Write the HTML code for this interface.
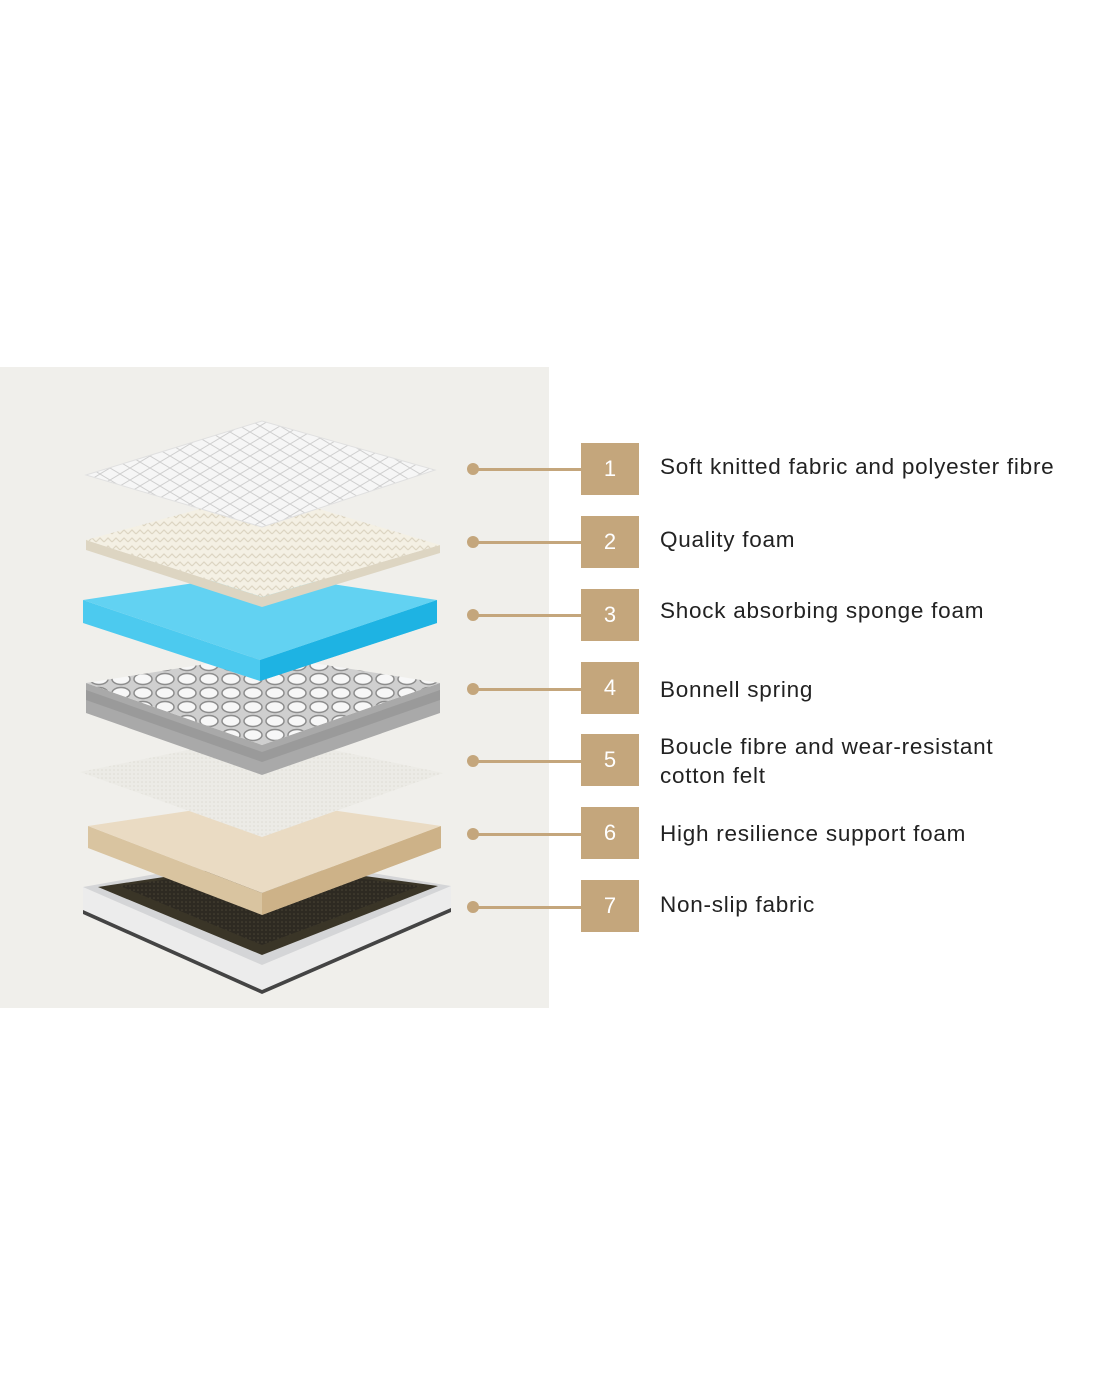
<!DOCTYPE html>
<html><head><meta charset="utf-8"><style>
body{margin:0;width:1100px;height:1375px;background:#fff;position:relative;overflow:hidden;font-family:"Liberation Sans",sans-serif}
.panel{position:absolute;left:0;top:367px;width:549px;height:641px;background:#f0efeb}
.dot{position:absolute;left:467px;width:12px;height:12px;border-radius:50%;background:#c4a67c}
.ln{position:absolute;left:473px;width:108px;height:3px;background:#c4a67c}
.box{position:absolute;left:581px;width:58px;height:52px;background:#c4a67c;color:#fff;font-size:22px;text-align:center;line-height:52px}
.t{position:absolute;left:660px;font-size:22.5px;color:#222;line-height:29px;letter-spacing:0.75px;white-space:nowrap}
</style></head><body>
<div class="panel"></div>
<svg width="549" height="1008" style="position:absolute;left:0;top:0">
<defs>
<pattern id="q" width="20" height="12" patternUnits="userSpaceOnUse"><rect width="20" height="12" fill="#f6f6f6"/><path d="M0 6 L10 0 L20 6 L10 12Z" fill="none" stroke="#cfcfcf" stroke-width="1"/></pattern>
<pattern id="f" width="8" height="8" patternUnits="userSpaceOnUse"><rect width="8" height="8" fill="#f4f0e4"/><path d="M0 6 L4 2 L8 6" fill="none" stroke="#ddd5c2" stroke-width="1.2"/></pattern>
<pattern id="s" width="22" height="14" patternUnits="userSpaceOnUse"><rect width="22" height="14" fill="#cfcfcf"/><ellipse cx="11" cy="7" rx="9" ry="5.5" fill="#f7f7f7" stroke="#8d8d8d" stroke-width="1.5"/></pattern>
<pattern id="c" width="4" height="4" patternUnits="userSpaceOnUse"><rect width="4" height="4" fill="#ecebe6"/><circle cx="2" cy="2" r="0.8" fill="#dedcd4"/></pattern>
<pattern id="m" width="4" height="4" patternUnits="userSpaceOnUse"><rect width="4" height="4" fill="#2e2a22"/><circle cx="2" cy="2" r="0.8" fill="#4b4535"/></pattern>
</defs>
<!-- 7 base -->
<polygon points="83,887 83,910 262,990 451,908 451,886 262,965" fill="#ececec"/>
<polygon points="83,910 262,990 451,908 451,912 262,994 83,914" fill="#444"/>
<polygon points="83,887 262,855 451,886 262,965" fill="#d4d5d7"/>
<polygon points="98,887 262,862 438,886 262,955" fill="#3a3527"/>
<polygon points="120,886 262,866 420,886 262,945" fill="url(#m)"/>
<!-- 6 beige -->
<polygon points="88,826 88,848 262,915 441,848 441,826 262,893" fill="#d9c4a0"/>
<polygon points="262,893 441,826 441,848 262,915" fill="#cdb288"/>
<polygon points="88,826 262,800 441,826 262,893" fill="#eadbc3"/>
<!-- 5 felt -->
<polygon points="80,772 262,735 443,773 262,837" fill="url(#c)"/>
<!-- 4 springs -->
<polygon points="86,683 86,713 262,775 440,713 440,683 262,745" fill="#a9a9a9"/>
<polygon points="86,690 262,752 440,690 440,700 262,762 86,700" fill="#8c8c8c" opacity=".5"/>
<polygon points="86,683 262,655 440,683 262,745" fill="url(#s)"/>
<!-- 3 blue -->
<polygon points="83,600 83,623 260,681 437,623 437,600 260,660" fill="#4ccaef"/>
<polygon points="260,660 437,600 437,623 260,681" fill="#1eb3e3"/>
<polygon points="83,600 260,573 437,600 260,660" fill="#62d2f2"/>
<!-- 2 foam -->
<polygon points="86,540 86,550 262,607 440,553 440,545 262,597" fill="#ddd5c2"/>
<polygon points="86,540 262,492 440,545 262,597" fill="url(#f)"/>
<!-- 1 fabric -->
<polygon points="86,475 262,421 435,470 262,527" fill="url(#q)" stroke="#e0e0e0"/>
</svg>

<div class="dot" style="top:463px"></div><div class="ln" style="top:468px"></div><div class="box" style="top:443px">1</div><div class="t" style="top:452px">Soft knitted fabric and polyester fibre</div>
<div class="dot" style="top:536px"></div><div class="ln" style="top:541px"></div><div class="box" style="top:516px">2</div><div class="t" style="top:525px">Quality foam</div>
<div class="dot" style="top:609px"></div><div class="ln" style="top:614px"></div><div class="box" style="top:589px">3</div><div class="t" style="top:596px">Shock absorbing sponge foam</div>
<div class="dot" style="top:683px"></div><div class="ln" style="top:688px"></div><div class="box" style="top:662px">4</div><div class="t" style="top:675px">Bonnell spring</div>
<div class="dot" style="top:755px"></div><div class="ln" style="top:760px"></div><div class="box" style="top:734px">5</div><div class="t" style="top:732px">Boucle fibre and wear-resistant<br>cotton felt</div>
<div class="dot" style="top:828px"></div><div class="ln" style="top:833px"></div><div class="box" style="top:807px">6</div><div class="t" style="top:819px">High resilience support foam</div>
<div class="dot" style="top:901px"></div><div class="ln" style="top:906px"></div><div class="box" style="top:880px">7</div><div class="t" style="top:890px">Non-slip fabric</div>
</body></html>
